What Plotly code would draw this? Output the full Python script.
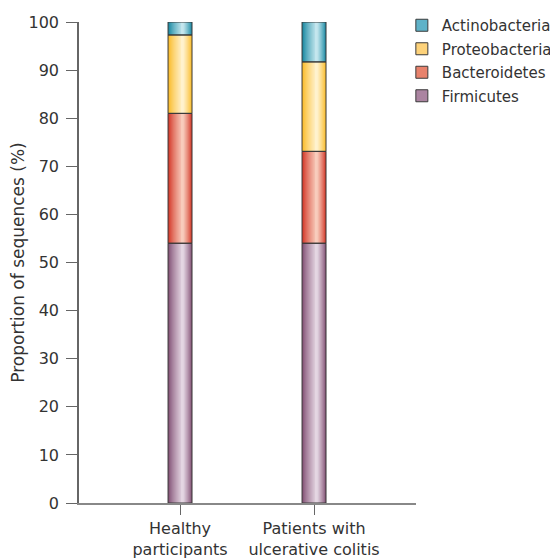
import plotly.graph_objects as go

categories = ["Healthy<br>participants", "Patients with<br>ulcerative colitis"]
phyla = ["Firmicutes", "Bacteroidetes", "Proteobacteria", "Actinobacteria"]
firmicutes = [54.0, 54.0]
bacteroidetes = [27.0, 19.1]
proteobacteria = [16.3, 18.6]
actinobacteria = [2.7, 8.3]
y_ticks = [0, 10, 20, 30, 40, 50, 60, 70, 80, 90, 100]

series = [firmicutes, bacteroidetes, proteobacteria, actinobacteria]
edge_colors = [(128, 78, 114), (210, 52, 36), (250, 186, 36), (20, 134, 160)]
light_colors = [(228, 214, 226), (248, 204, 188), (255, 242, 206), (196, 230, 238)]
mid_colors = ["#ab84a1", "#e8826c", "#fdd27a", "#5fb2c8"]

FONT = "DejaVu Sans"
TXT = "#333333"
W = 0.179
C = 0.12 * W
N = 14

xs = [0, 1]
fig = go.Figure()

bases = [[0.0, 0.0]]
for s in series[:-1]:
    bases.append([b + v for b, v in zip(bases[-1], s)])

def lerp(a, b, t):
    return "rgb(%d,%d,%d)" % tuple(round(a[i] + (b[i] - a[i]) * t) for i in range(3))

for si, s in enumerate(series):
    for k in range(N):
        t = k / N
        left = -W / 2 + (C + W / 2) * t
        right = W / 2 - (W / 2 - C) * t
        tc = (k / (N - 1)) ** 0.8
        fig.add_trace(go.Bar(
            x=xs, y=s, base=bases[si], width=right - left, offset=left,
            marker=dict(color=lerp(edge_colors[si], light_colors[si], tc), line=dict(width=0)),
            showlegend=False, hoverinfo="skip"))

for si, s in enumerate(series):
    fig.add_trace(go.Bar(
        x=xs, y=s, base=bases[si], width=W, offset=-W / 2,
        marker=dict(color="rgba(0,0,0,0)", line=dict(color="#3a3a3a", width=1)),
        showlegend=False, name=phyla[si]))

for si in reversed(range(4)):
    fig.add_trace(go.Bar(
        x=[None], y=[None], name=phyla[si],
        marker=dict(color=mid_colors[si], line=dict(color="#3a3a3a", width=1)),
        legendgroup=phyla[si], showlegend=True))

fig.update_layout(
    width=558, height=558,
    barmode="overlay",
    paper_bgcolor="white", plot_bgcolor="white",
    margin=dict(l=71, r=150, t=14, b=63, autoexpand=False),
    font=dict(family=FONT, color=TXT, size=16),
    showlegend=True,
    legend=dict(x=0.958, y=1.027, xanchor="left", yanchor="top",
                font=dict(size=15, color=TXT), traceorder="grouped",
                tracegroupgap=1, bgcolor="rgba(0,0,0,0)", itemclick=False),
    xaxis=dict(range=[-0.754, 1.761], tickvals=xs, ticktext=categories,
               showgrid=False, zeroline=False, showline=True, linecolor="#888888",
               linewidth=2, ticks="outside", ticklen=10, tickcolor="#666666",
               tickfont=dict(size=16, color=TXT), automargin=False),
    yaxis=dict(range=[0, 100], tickvals=y_ticks, showgrid=False, zeroline=False,
               showline=True, linecolor="#666666", linewidth=1.5, ticks="outside",
               ticklen=11, tickcolor="#666666", tickfont=dict(size=16, color=TXT),
               ticklabelstandoff=4, automargin=False,
               title=dict(text="Proportion of sequences (%)", font=dict(size=17, color=TXT), standoff=3)),
)

fig.write_html("out.html")
